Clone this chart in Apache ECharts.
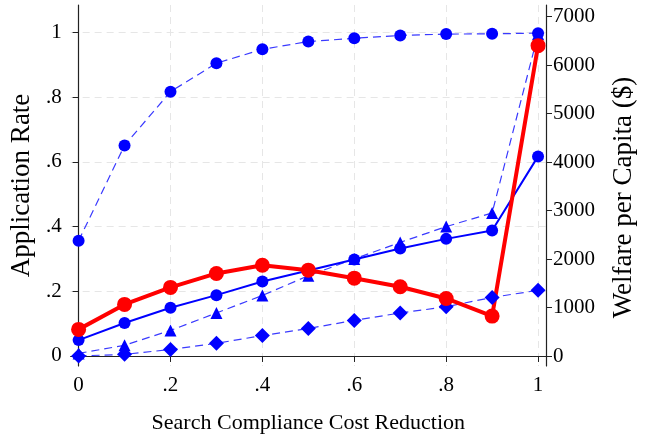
<!DOCTYPE html>
<html>
<head>
<meta charset="utf-8">
<script src="https://cdn.jsdelivr.net/npm/echarts@6/dist/echarts.min.js"></script>
<style>
  html, body { margin: 0; padding: 0; background: #fff; }
  #chart { width: 645px; height: 439px; }
</style>
</head>
<body>
<div id="chart"></div>
<script>
  // x values: search compliance cost reduction
  const xs = [0, 0.1, 0.2, 0.3, 0.4, 0.5, 0.6, 0.7, 0.8, 0.9, 1]
  // application rate series (left axis)
  const rateTop = [0.356, 0.651, 0.817, 0.905, 0.948, 0.972, 0.982, 0.991, 0.995, 0.996, 0.998]
  const rateSolid = [0.049, 0.102, 0.149, 0.188, 0.230, 0.264, 0.298, 0.332, 0.362, 0.388, 0.617]
  const rateTriangle = [0.008, 0.033, 0.079, 0.133, 0.187, 0.248, 0.300, 0.351, 0.400, 0.442, 0.995]
  const rateDiamond = [0.0, 0.005, 0.020, 0.039, 0.063, 0.085, 0.110, 0.133, 0.152, 0.181, 0.203]
  // welfare per capita (right axis)
  const welfare = [549, 1064, 1414, 1702, 1872, 1770, 1605, 1428, 1187, 823, 6399]
  // tick labels
  const xTicks = [0, 0.2, 0.4, 0.6, 0.8, 1]
  const leftTicks = [0, 0.2, 0.4, 0.6, 0.8, 1]
  const rightTicks = [0, 1000, 2000, 3000, 4000, 5000, 6000, 7000]

  const pair = arr => xs.map((x, i) => [x, arr[i]])
  const fmt = v => {
    const r = Math.round(v * 10) / 10
    if (r === 0) return '0'
    if (r === 1) return '1'
    return String(r).replace('0.', '.')
  }

  const font = 'Liberation Serif'
  const axisCol = '#222'
  const gridLine = {
    show: true,
    lineStyle: { color: '#e6e6e6', type: [7, 5], width: 1 }
  }

  const chart = echarts.init(document.getElementById('chart'))
  chart.setOption({
    animation: false,
    textStyle: { fontFamily: font, color: '#000' },
    grid: { left: 70, right: 97, top: 5, bottom: 72 },
    xAxis: {
      type: 'value',
      min: -0.0173,
      max: 1.0173,
      name: 'Search Compliance Cost Reduction',
      nameLocation: 'middle',
      nameGap: 46,
      nameTextStyle: { fontFamily: font, fontSize: 22, color: '#000' },
      axisLine: { show: true, lineStyle: { color: axisCol, width: 1.2 } },
      axisTick: { show: true, length: 6, customValues: xTicks, lineStyle: { color: axisCol } },
      axisLabel: { customValues: xTicks, formatter: fmt, margin: 9, fontSize: 21, color: '#000', fontFamily: font },
      splitLine: gridLine
    },
    yAxis: [{
      type: 'value',
      position: 'left',
      min: -0.031,
      max: 1.085,
      name: 'Application Rate',
      nameLocation: 'middle',
      nameGap: 33,
      nameTextStyle: { fontFamily: font, fontSize: 27, color: '#000' },
      axisLine: { show: true, lineStyle: { color: axisCol, width: 1.2 } },
      axisTick: { show: true, length: 6, customValues: leftTicks, lineStyle: { color: axisCol } },
      axisLabel: { customValues: leftTicks, formatter: fmt, margin: 9, fontSize: 21, color: '#000', fontFamily: font },
      splitLine: gridLine
    }, {
      type: 'value',
      position: 'right',
      min: -206,
      max: 7237,
      name: 'Welfare per Capita ($)',
      nameLocation: 'middle',
      nameGap: 64,
      nameTextStyle: { fontFamily: font, fontSize: 27, color: '#000', padding: [0, 24, 0, 0] },
      axisLine: { show: true, lineStyle: { color: axisCol, width: 1.2 } },
      axisTick: { show: true, length: 6, customValues: rightTicks, lineStyle: { color: axisCol } },
      axisLabel: { customValues: rightTicks, formatter: v => String(Math.round(v)), margin: 7, fontSize: 21, color: '#000', fontFamily: font },
      splitLine: { show: false }
    }],
    series: [{
      name: 'top',
      type: 'line',
      data: pair(rateTop),
      symbol: 'circle',
      symbolSize: 12,
      itemStyle: { color: '#0000ff' },
      lineStyle: { color: '#3a3aff', width: 1.2, type: [8, 5] }
    }, {
      name: 'triangle',
      type: 'line',
      data: pair(rateTriangle),
      symbol: 'triangle',
      symbolSize: 12,
      itemStyle: { color: '#0000ff' },
      lineStyle: { color: '#3a3aff', width: 1.2, type: [8, 5] }
    }, {
      name: 'diamond',
      type: 'line',
      data: pair(rateDiamond),
      symbol: 'diamond',
      symbolSize: 15,
      itemStyle: { color: '#0000ff' },
      lineStyle: { color: '#3a3aff', width: 1.2, type: [8, 5] }
    }, {
      name: 'solid',
      type: 'line',
      data: pair(rateSolid),
      symbol: 'circle',
      symbolSize: 12,
      itemStyle: { color: '#0000ff' },
      lineStyle: { color: '#0000ff', width: 2 }
    }, {
      name: 'welfare',
      type: 'line',
      yAxisIndex: 1,
      data: pair(welfare),
      symbol: 'circle',
      symbolSize: 15,
      itemStyle: { color: '#ff0000' },
      lineStyle: { color: '#ff0000', width: 4 }
    }]
  })
</script>
</body>
</html>
